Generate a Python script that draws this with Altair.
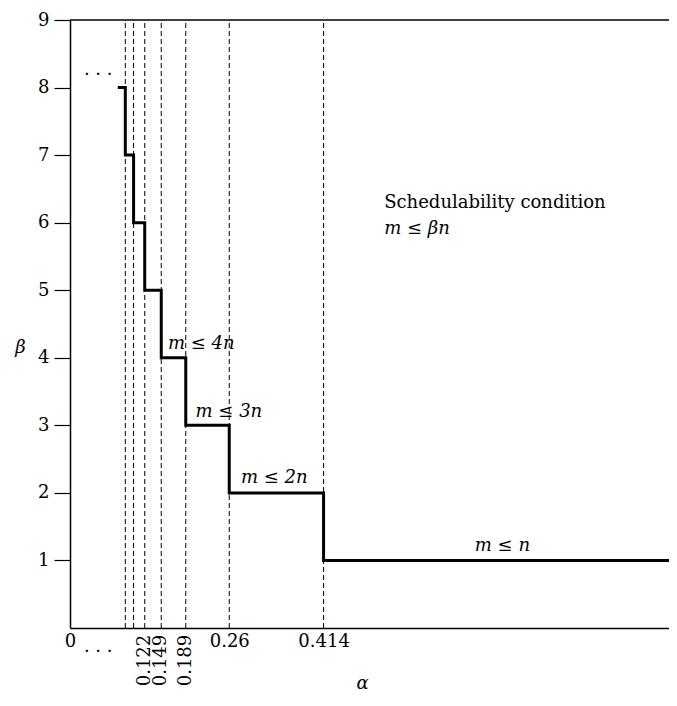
import altair as alt
import pandas as pd

# step curve: beta as a function of alpha
alpha_break = [0.078, 0.0903, 0.1038, 0.122, 0.149, 0.189, 0.26, 0.414, 0.978]
beta_step = [8, 7, 6, 5, 4, 3, 2, 1, 1]

# dashed vertical guides
dashed_x = [0.0903, 0.1038, 0.122, 0.149, 0.189, 0.26, 0.414]

# x tick labels
x_ticks = [0, 0.26, 0.414]
rot_labels = ["0.122", "0.149", "0.189"]
rot_x = [0.122, 0.149, 0.189]

# y ticks
y_ticks = [1, 2, 3, 4, 5, 6, 7, 8, 9]

# annotations (math, italic)
ann_text = ["m ≤ 4n", "m ≤ 3n", "m ≤ 2n", "m ≤ βn"]
ann_x = [0.160, 0.205, 0.279, 0.513]
ann_y = [4.2, 3.2, 2.22, 5.9]

# annotation (roman)
plain_text = ["Schedulability condition"]
plain_x = [0.513]
plain_y = [6.29]

n_text = ["m ≤ n"]
n_x = [0.706]
n_y = [1.21]

dots_x = [0.046, 0.046]
dots_y = [8.18, -0.35]

X_MAX = 0.978
Y_MAX = 9
FONT = "DejaVu Serif"
FS = 18

xs = alt.Scale(domain=[0, X_MAX], nice=False, zero=False)
ys = alt.Scale(domain=[0, Y_MAX], nice=False)

step_df = pd.DataFrame({"a": alpha_break, "b": beta_step})
dash_df = pd.DataFrame({"a": dashed_x, "y0": [0] * len(dashed_x), "y1": [Y_MAX] * len(dashed_x)})
top_df = pd.DataFrame({"a0": [0], "a1": [X_MAX], "b": [Y_MAX]})
ann_df = pd.DataFrame({"t": ann_text, "a": ann_x, "b": ann_y})
plain_df = pd.DataFrame({"t": plain_text, "a": plain_x, "b": plain_y})
n_df = pd.DataFrame({"t": n_text, "a": n_x, "b": n_y})
rot_df = pd.DataFrame({"t": rot_labels, "a": rot_x, "b": [-0.1] * len(rot_x)})
dots_df = pd.DataFrame({"t": [". . ."] * 2, "a": dots_x, "b": dots_y})

x_axis = alt.Axis(
    values=x_ticks, labelExpr="'' + datum.value", ticks=False, grid=False,
    labelFont=FONT, labelFontSize=FS, labelColor="black", labelPadding=4,
    domainColor="black", domainWidth=1.5,
    title="α", titleFont=FONT, titleFontSize=FS, titleFontStyle="italic",
    titleFontWeight="normal", titleColor="black", titleX=292, titleY=55,
    titleBaseline="middle", titleAlign="center", labelFlush=False,
)
y_axis = alt.Axis(
    values=y_ticks, ticks=True, tickSize=16, tickColor="black", tickWidth=1.2,
    grid=False, labelFont=FONT, labelFontSize=FS, labelColor="black",
    labelPadding=5, domainColor="black", domainWidth=1.5,
    title="β", titleFont=FONT, titleFontSize=FS, titleFontStyle="italic",
    titleFontWeight="normal", titleColor="black", titleAngle=0,
    titleX=-50, titleY=327, titleBaseline="middle", titleAlign="center",
)

base_x = alt.X("a:Q", scale=xs, axis=x_axis)
base_y = alt.Y("b:Q", scale=ys, axis=y_axis)

dashes = alt.Chart(dash_df).mark_rule(
    strokeDash=[5, 3], strokeWidth=1, color="black"
).encode(x=alt.X("a:Q", scale=xs, axis=x_axis), y=alt.Y("y0:Q", scale=ys, axis=y_axis), y2="y1:Q")

top = alt.Chart(top_df).mark_rule(strokeWidth=1.5, color="black").encode(
    x=alt.X("a0:Q", scale=xs, axis=x_axis), x2="a1:Q", y=alt.Y("b:Q", scale=ys, axis=y_axis)
)

step = alt.Chart(step_df).mark_line(
    interpolate="step-after", strokeWidth=3, color="black"
).encode(x=base_x, y=base_y)

ann = alt.Chart(ann_df).mark_text(
    align="left", baseline="middle", font=FONT, fontSize=FS, fontStyle="italic", color="black"
).encode(x=base_x, y=base_y, text="t:N")

plain = alt.Chart(plain_df).mark_text(
    align="left", baseline="middle", font=FONT, fontSize=FS, color="black"
).encode(x=base_x, y=base_y, text="t:N")

ann_n = alt.Chart(n_df).mark_text(
    align="center", baseline="middle", font=FONT, fontSize=FS, fontStyle="italic", color="black"
).encode(x=base_x, y=base_y, text="t:N")

rot = alt.Chart(rot_df).mark_text(
    align="right", baseline="middle", angle=270, font=FONT, fontSize=FS, color="black"
).encode(x=base_x, y=base_y, text="t:N")

dots = alt.Chart(dots_df).mark_text(
    align="center", baseline="alphabetic", font=FONT, fontSize=FS, color="black"
).encode(x=base_x, y=base_y, text="t:N")

chart = alt.layer(dashes, top, step, ann, plain, ann_n, rot, dots).properties(
    width=599, height=608,
    autosize=alt.AutoSizeParams(type="none"),
    padding={"left": 62, "top": 12, "right": 0, "bottom": 70},
    background="white",
).configure_view(stroke="transparent")

chart.save("out.html", embed_options={"renderer": "svg", "actions": False})
